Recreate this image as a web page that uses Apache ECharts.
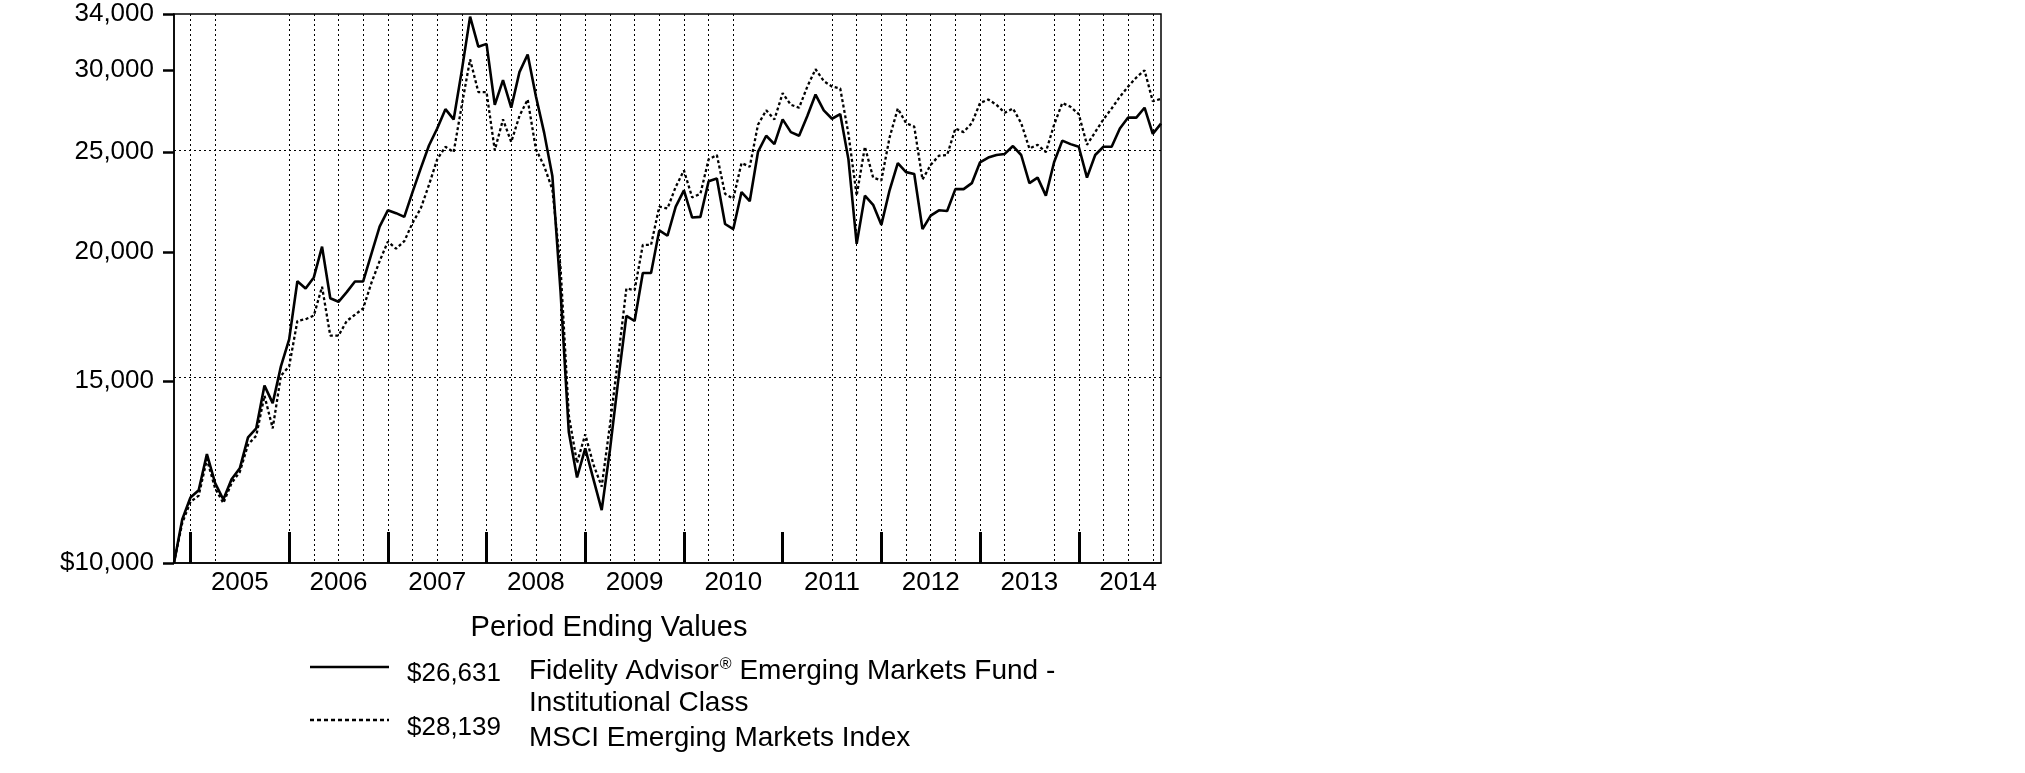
<!DOCTYPE html>
<html>
<head>
<meta charset="utf-8">
<script src="https://cdn.jsdelivr.net/npm/echarts@6/dist/echarts.min.js"></script>
<style>
html,body{margin:0;padding:0;background:#ffffff;}
#chart{width:2025px;height:773px;}
</style>
</head>
<body>
<div id="chart"></div>
<script>
// ---------- DATA ----------
// Monthly period ends, Oct 2004 .. Oct 2014 (121 points)
const startYear = 2004, startMonth = 10;
const months = [];
for (let i = 0; i <= 120; i++) {
  const mIdx = startMonth - 1 + i;
  const y = startYear + Math.floor(mIdx / 12);
  const m = (mIdx % 12) + 1;
  months.push(y + '-' + String(m).padStart(2, '0'));
}

// Fidelity Advisor Emerging Markets Fund - Institutional Class (growth of $10,000)
const fundValues = [
  10000, 11020, 11570, 11760, 12750, 11950, 11520, 12050, 12350, 13230, 13500, 14850, 14280, 15500, 16460, 18740,
  18440, 18900, 20240, 18040, 17900, 18290, 18730, 18730, 19920, 21170, 21950, 21810, 21630, 22860, 24100,
  25360, 26340, 27500, 26880, 30000, 33800, 31610, 31810, 27770, 29340, 27590, 29870, 31060, 28300, 26100,
  23700, 18300, 13390, 12100, 12910, 12050, 11250, 12860, 15000, 17350, 17150, 19090, 19090, 20990,
  20740, 22130, 22950, 21600, 21630, 23420, 23560, 21290, 21050, 22860, 22400, 25000, 25920, 25440, 26880,
  26130, 25920, 27090, 28410, 27430, 26920, 27200, 24590, 20370, 22680, 22220, 21250, 22950, 24390, 23900,
  23800, 21050, 21690, 21950, 21920, 23010, 23010, 23320, 24430, 24690, 24830, 24890, 25330, 24830, 23320,
  23610, 22680, 24430, 25640, 25440, 25290, 23610, 24830, 25290, 25290, 26340, 26990, 26990, 27590, 26030, 26631
];

// MSCI Emerging Markets Index (growth of $10,000)
const indexValues = [
  10000, 10930, 11460, 11620, 12600, 11810, 11430, 11950, 12250, 13020, 13280, 14520, 13500, 15180, 15500, 17150,
  17220, 17360, 18510, 16600, 16600, 17150, 17390, 17640, 18670, 19600, 20470, 20150, 20490, 21340, 22040,
  23230, 24590, 25290, 24990, 27770, 30730, 28570, 28570, 25090, 26880, 25560, 27090, 28100, 25150, 24230,
  23000, 19300, 13900, 12500, 13320, 12450, 11860, 13600, 15800, 18440, 18370, 20320, 20320, 22130,
  22040, 23130, 23990, 22590, 22770, 24590, 24830, 22770, 22530, 24390, 24190, 26560, 27430, 26880, 28500,
  27770, 27590, 28920, 30060, 29280, 28920, 28800, 26030, 22680, 25290, 23610, 23460, 25820, 27540, 26660,
  26450, 23510, 24290, 24790, 24830, 26340, 26130, 26660, 27880, 28100, 27770, 27280, 27540, 26660, 25190,
  25400, 24990, 26560, 27880, 27650, 27200, 25400, 26130, 26880, 27540, 28270, 28920, 29510, 29990, 27990, 28139
];

const seriesNames = ['Fidelity Advisor\u00AE Emerging Markets Fund - Institutional Class', 'MSCI Emerging Markets Index'];
const endingValues = ['$26,631', '$28,139'];

const yTickValues = [10000, 15000, 20000, 25000, 30000, 34000];
const yTickLabels = ['$10,000', '15,000', '20,000', '25,000', '30,000', '34,000'];
const yGridValues = [15000, 25000];
const yMin = 10000, yMax = 34000;

const yearLabels = ['2005', '2006', '2007', '2008', '2009', '2010', '2011', '2012', '2013', '2014'];
// months (index) carrying a dotted vertical gridline in the original
const gridMonthIdx = [2, 5, 14, 17, 20, 23, 26, 29, 32, 35, 38, 41, 44, 47, 50, 53, 56, 59, 62, 65, 68,
  80, 83, 86, 89, 92, 95, 98, 101, 107, 110, 113, 116, 119];

// ---------- CHART ----------
const FONT = '"Liberation Sans", Arial, Helvetica, sans-serif';
const L = Math.log10;

const chart = echarts.init(document.getElementById('chart'), null, { renderer: 'canvas' });

const dotted = { color: '#000', width: 1, type: [2, 3] };

const option = {
  animation: false,
  backgroundColor: '#ffffff',
  grid: {
    left: 174, right: 864, top: 14, bottom: 210,
    show: true, borderColor: '#000', borderWidth: 1.5, backgroundColor: 'transparent'
  },
  xAxis: {
    type: 'category',
    data: months,
    boundaryGap: false,
    axisLine: { show: true, lineStyle: { color: '#000', width: 1.5 } },
    axisTick: {
      show: true, inside: true, length: 31,
      interval: (i, v) => v.endsWith('-12'),
      lineStyle: { color: '#000', width: 3 }
    },
    axisLabel: {
      show: true,
      interval: (i, v) => v.endsWith('-06'),
      formatter: (v) => {
        const k = yearLabels.indexOf(v.slice(0, 4));
        return k >= 0 ? yearLabels[k] : '';
      },
      margin: 7,
      color: '#000', fontSize: 26, fontFamily: FONT
    },
    splitLine: {
      show: true,
      interval: (i) => gridMonthIdx.indexOf(i) >= 0,
      lineStyle: dotted
    }
  },
  yAxis: {
    type: 'value',
    min: L(yMin), max: L(yMax),
    axisLine: { show: true, lineStyle: { color: '#000', width: 1.5 } },
    axisTick: {
      show: true, inside: false, length: 11,
      customValues: yTickValues.map(L),
      lineStyle: { color: '#000', width: 2.5 }
    },
    axisLabel: {
      show: true,
      customValues: yTickValues.map(L),
      formatter: (v) => {
        for (let k = 0; k < yTickValues.length; k++) {
          if (Math.abs(L(yTickValues[k]) - v) < 1e-6) return yTickLabels[k];
        }
        return '';
      },
      margin: 20,
      color: '#000', fontSize: 26, fontFamily: FONT
    },
    splitLine: { show: false }
  },
  series: [
    {
      name: seriesNames[1],
      type: 'line',
      data: indexValues.map(L),
      symbol: 'none',
      lineStyle: { color: '#000', width: 2.3, type: [3, 2.5] },
      z: 2,
      markLine: {
        silent: true, symbol: 'none', label: { show: false },
        lineStyle: dotted,
        data: yGridValues.map(v => ({ yAxis: L(v) }))
      }
    },
    {
      name: seriesNames[0],
      type: 'line',
      data: fundValues.map(L),
      symbol: 'none',
      lineStyle: { color: '#000', width: 2.6, type: 'solid' },
      z: 3
    }
  ],
  graphic: [
    { type: 'text', x: 609, y: 628, style: { text: 'Period Ending Values', font: '29px ' + FONT, fill: '#000', textAlign: 'center', textVerticalAlign: 'middle', align: 'center', verticalAlign: 'middle' } },
    { type: 'line', shape: { x1: 310, y1: 667, x2: 389, y2: 667 }, style: { stroke: '#000', lineWidth: 2.5 } },
    { type: 'text', x: 407, y: 674, style: { text: endingValues[0], font: '26px ' + FONT, fill: '#000', textAlign: 'left', textVerticalAlign: 'middle', align: 'left', verticalAlign: 'middle' } },
    { type: 'text', x: 529, y: 671, style: {
        text: '{a|Fidelity Advisor}{s|\u00AE}{a| Emerging Markets Fund -}',
        fill: '#000', textAlign: 'left', textVerticalAlign: 'middle', align: 'left', verticalAlign: 'middle',
        rich: {
          a: { fontSize: 28, fontFamily: FONT, fill: '#000', color: '#000' },
          s: { fontSize: 16, fontFamily: FONT, fill: '#000', color: '#000', verticalAlign: 'top', padding: [0, 0, 0, 1] }
        }
      } },
    { type: 'text', x: 529, y: 703, style: { text: 'Institutional Class', font: '28px ' + FONT, fill: '#000', textAlign: 'left', textVerticalAlign: 'middle', align: 'left', verticalAlign: 'middle' } },
    { type: 'line', shape: { x1: 310, y1: 720, x2: 389, y2: 720 }, style: { stroke: '#000', lineWidth: 2.5, lineDash: [4, 3] } },
    { type: 'text', x: 407, y: 728, style: { text: endingValues[1], font: '26px ' + FONT, fill: '#000', textAlign: 'left', textVerticalAlign: 'middle', align: 'left', verticalAlign: 'middle' } },
    { type: 'text', x: 529, y: 738, style: { text: 'MSCI Emerging Markets Index', font: '28px ' + FONT, fill: '#000', textAlign: 'left', textVerticalAlign: 'middle', align: 'left', verticalAlign: 'middle' } }
  ]
};

chart.setOption(option);
</script>
</body>
</html>
